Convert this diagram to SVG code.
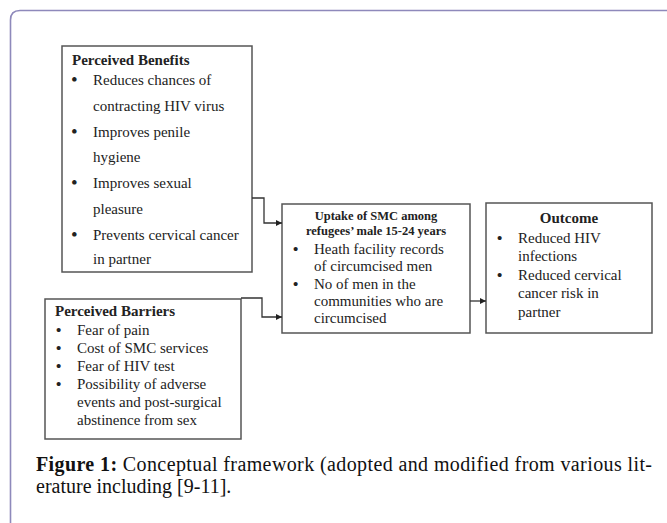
<svg xmlns="http://www.w3.org/2000/svg" width="667" height="523" viewBox="0 0 667 523">
<style>
.box{fill:#fff;stroke:#555;stroke-width:1.5}
text{font-family:'Liberation Serif','Tinos','Times New Roman','DejaVu Serif',serif}
.t{font-size:15px;fill:#222}
.b{font-weight:bold}
.c{font-size:20px;fill:#111}
.u{font-size:19px}
.v{font-weight:bold}
.con{fill:none;stroke:#333;stroke-width:1.3}
</style>
<defs>
<marker id="ah" viewBox="0 0 8 8" refX="8" refY="4" markerWidth="6" markerHeight="6" orient="auto" markerUnits="userSpaceOnUse"><path d="M0,0 L8,4 L0,8 z" fill="#222"/></marker>
</defs>
<rect width="667" height="523" fill="#fff"/>
<path d="M10.5,540 V20 Q10.5,10.5 20,10.5 H680" fill="none" stroke="#8e89bb" stroke-width="1.6"/>

<g id="benefits">
<rect class="box" x="62" y="46" width="190" height="226"/>
<text class="t b" x="72" y="65">Perceived Benefits</text>
<text class="t"><tspan class="u" x="71" y="86">•</tspan><tspan x="93" y="85">Reduces chances of</tspan>
<tspan x="93" y="111">contracting HIV virus</tspan>
<tspan class="u" x="71" y="137.5">•</tspan><tspan x="93" y="136.5">Improves penile</tspan>
<tspan x="93" y="162">hygiene</tspan>
<tspan class="u" x="71" y="189">•</tspan><tspan x="93" y="188">Improves sexual</tspan>
<tspan x="93" y="213.5">pleasure</tspan>
<tspan class="u" x="71" y="240.5">•</tspan><tspan x="93" y="239.5">Prevents cervical cancer</tspan>
<tspan x="93" y="264">in partner</tspan></text>
</g>

<g id="barriers">
<rect class="box" x="45" y="299" width="196" height="140"/>
<text class="t b" x="55" y="316">Perceived Barriers</text>
<text class="t"><tspan class="v" x="56" y="335">•</tspan><tspan x="77" y="335">Fear of pain</tspan>
<tspan class="v" x="56" y="353">•</tspan><tspan x="77" y="353">Cost of SMC services</tspan>
<tspan class="v" x="56" y="371">•</tspan><tspan x="77" y="371">Fear of HIV test</tspan>
<tspan class="v" x="56" y="389">•</tspan><tspan x="77" y="389">Possibility of adverse</tspan>
<tspan x="77" y="407">events and post-surgical</tspan>
<tspan x="77" y="425">abstinence from sex</tspan></text>
</g>

<g id="uptake">
<rect class="box" x="282" y="204" width="188" height="129"/>
<text class="t b" style="font-size:12.5px" text-anchor="middle"><tspan x="376" y="220">Uptake of SMC among</tspan><tspan x="376" y="235">refugees’ male 15-24 years</tspan></text>
<text class="t"><tspan class="v" x="293" y="254">•</tspan><tspan x="314" y="254">Heath facility records</tspan>
<tspan x="314" y="271">of circumcised men</tspan>
<tspan class="v" x="293" y="289">•</tspan><tspan x="314" y="289">No of men in the</tspan>
<tspan x="314" y="306">communities who are</tspan>
<tspan x="314" y="323">circumcised</tspan></text>
</g>

<g id="outcome">
<rect class="box" x="486" y="203" width="166" height="130"/>
<text class="t b" x="569" y="223" text-anchor="middle">Outcome</text>
<text class="t"><tspan class="v" x="497" y="243">•</tspan><tspan x="518" y="243">Reduced HIV</tspan>
<tspan x="518" y="261">infections</tspan>
<tspan class="v" x="497" y="280">•</tspan><tspan x="518" y="280">Reduced cervical</tspan>
<tspan x="518" y="298">cancer risk in</tspan>
<tspan x="518" y="317">partner</tspan></text>
</g>

<g id="connectors">
<path class="con" d="M252,198 H264 V223 H282" marker-end="url(#ah)"/>
<path class="con" d="M241,298 H262 V317 H282" marker-end="url(#ah)"/>
<path class="con" d="M470,301 H486" marker-end="url(#ah)"/>
</g>

<g id="caption">
<text class="c" x="36" y="471" textLength="616" lengthAdjust="spacing"><tspan font-weight="bold">Figure 1:</tspan> Conceptual framework (adopted and modified from various lit-</text>
<text class="c" x="36" y="493">erature including [9-11].</text>
</g>
</svg>
